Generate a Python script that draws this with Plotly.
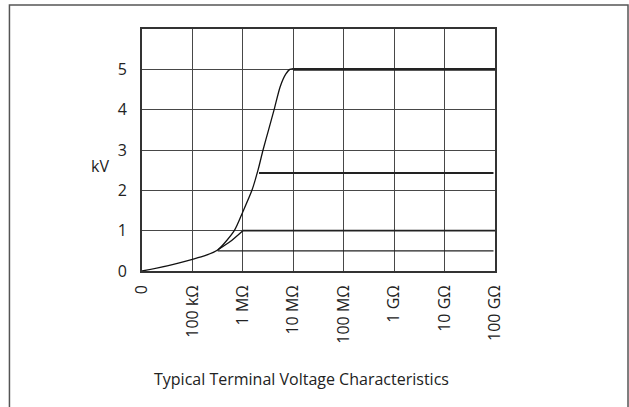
import plotly.graph_objects as go

# ---- data (x in decade positions: 0 = "0", 1 = 100 kΩ, ... 7 = 100 GΩ) ----
tick_labels = ["0", "100 kΩ", "1 MΩ", "10 MΩ", "100 MΩ", "1 GΩ", "10 GΩ", "100 GΩ"]
kv_ticks = [0, 1, 2, 3, 4, 5]

curve_x = [0, 0.5, 1.0, 1.25, 1.5, 1.83, 2.0, 2.18, 2.3, 2.4, 2.51, 2.62, 2.74, 2.85, 2.93, 3.0]
curve_kv = [0, 0.13, 0.29, 0.38, 0.52, 1.0, 1.47, 2.0, 2.5, 3.0, 3.5, 4.0, 4.57, 4.88, 5.0, 5.02]

branch_x = [1.5, 1.75, 2.0]
branch_kv = [0.52, 0.73, 1.0]

plateau_kv = [5.0, 2.43, 1.0, 0.5]
plateau_start = [3.0, 2.32, 2.0, 1.5]
plateau_end = [7.0, 6.97, 7.0, 6.97]

# ---- styles ----
plateau_widths = [2.6, 2.2, 1.6, 1.4]
FONT = "Open Sans"

fig = go.Figure()

for kv, x0, x1, w in zip(plateau_kv, plateau_start, plateau_end, plateau_widths):
    fig.add_trace(go.Scatter(x=[x0, x1], y=[kv, kv], mode="lines",
                             line=dict(color="#222222", width=w),
                             hoverinfo="skip", showlegend=False))

fig.add_trace(go.Scatter(x=curve_x, y=curve_kv, mode="lines",
                         line=dict(color="#111111", width=1.3, shape="spline", smoothing=0.7),
                         showlegend=False))
fig.add_trace(go.Scatter(x=branch_x, y=branch_kv, mode="lines",
                         line=dict(color="#111111", width=1.3, shape="spline", smoothing=0.6),
                         showlegend=False))

fig.update_layout(
    width=629, height=407,
    margin=dict(l=142, r=134, t=29, b=136),
    paper_bgcolor="white", plot_bgcolor="white",
    font=dict(family=FONT, size=16, color="#222222"),
    xaxis=dict(range=[0, 7], tickmode="array", tickvals=list(range(len(tick_labels))),
               ticktext=tick_labels, tickangle=-90, showgrid=True, gridcolor="#474747",
               gridwidth=1.4, zeroline=False, showline=True, linecolor="#333333",
               linewidth=1.6, mirror=True, ticks="", ticklabelstandoff=6, fixedrange=True),
    yaxis=dict(range=[0, 6], tickmode="array", tickvals=kv_ticks,
               ticktext=[str(v) for v in kv_ticks], showgrid=True, gridcolor="#474747",
               gridwidth=1.4, zeroline=False, showline=True, linecolor="#333333",
               linewidth=1.6, mirror=True, ticks="", ticklabelstandoff=10, fixedrange=True),
    shapes=[dict(type="rect", xref="paper", yref="paper",
                 x0=-0.3755, x1=1.3768, y0=-0.6, y1=1.099,
                 line=dict(color="#555555", width=1.5), layer="below")],
    annotations=[
        dict(text="kV", xref="paper", yref="paper", x=-0.119, y=0.435,
             showarrow=False, xanchor="center", yanchor="middle", font=dict(size=16)),
        dict(text="Typical Terminal Voltage Characteristics", xref="paper", yref="paper",
             x=0.453, y=-0.4445, showarrow=False, xanchor="center", yanchor="middle",
             font=dict(size=16)),
    ],
)

fig.write_html("out.html", config={"displayModeBar": False},
               post_script="document.body.style.margin='0';")
